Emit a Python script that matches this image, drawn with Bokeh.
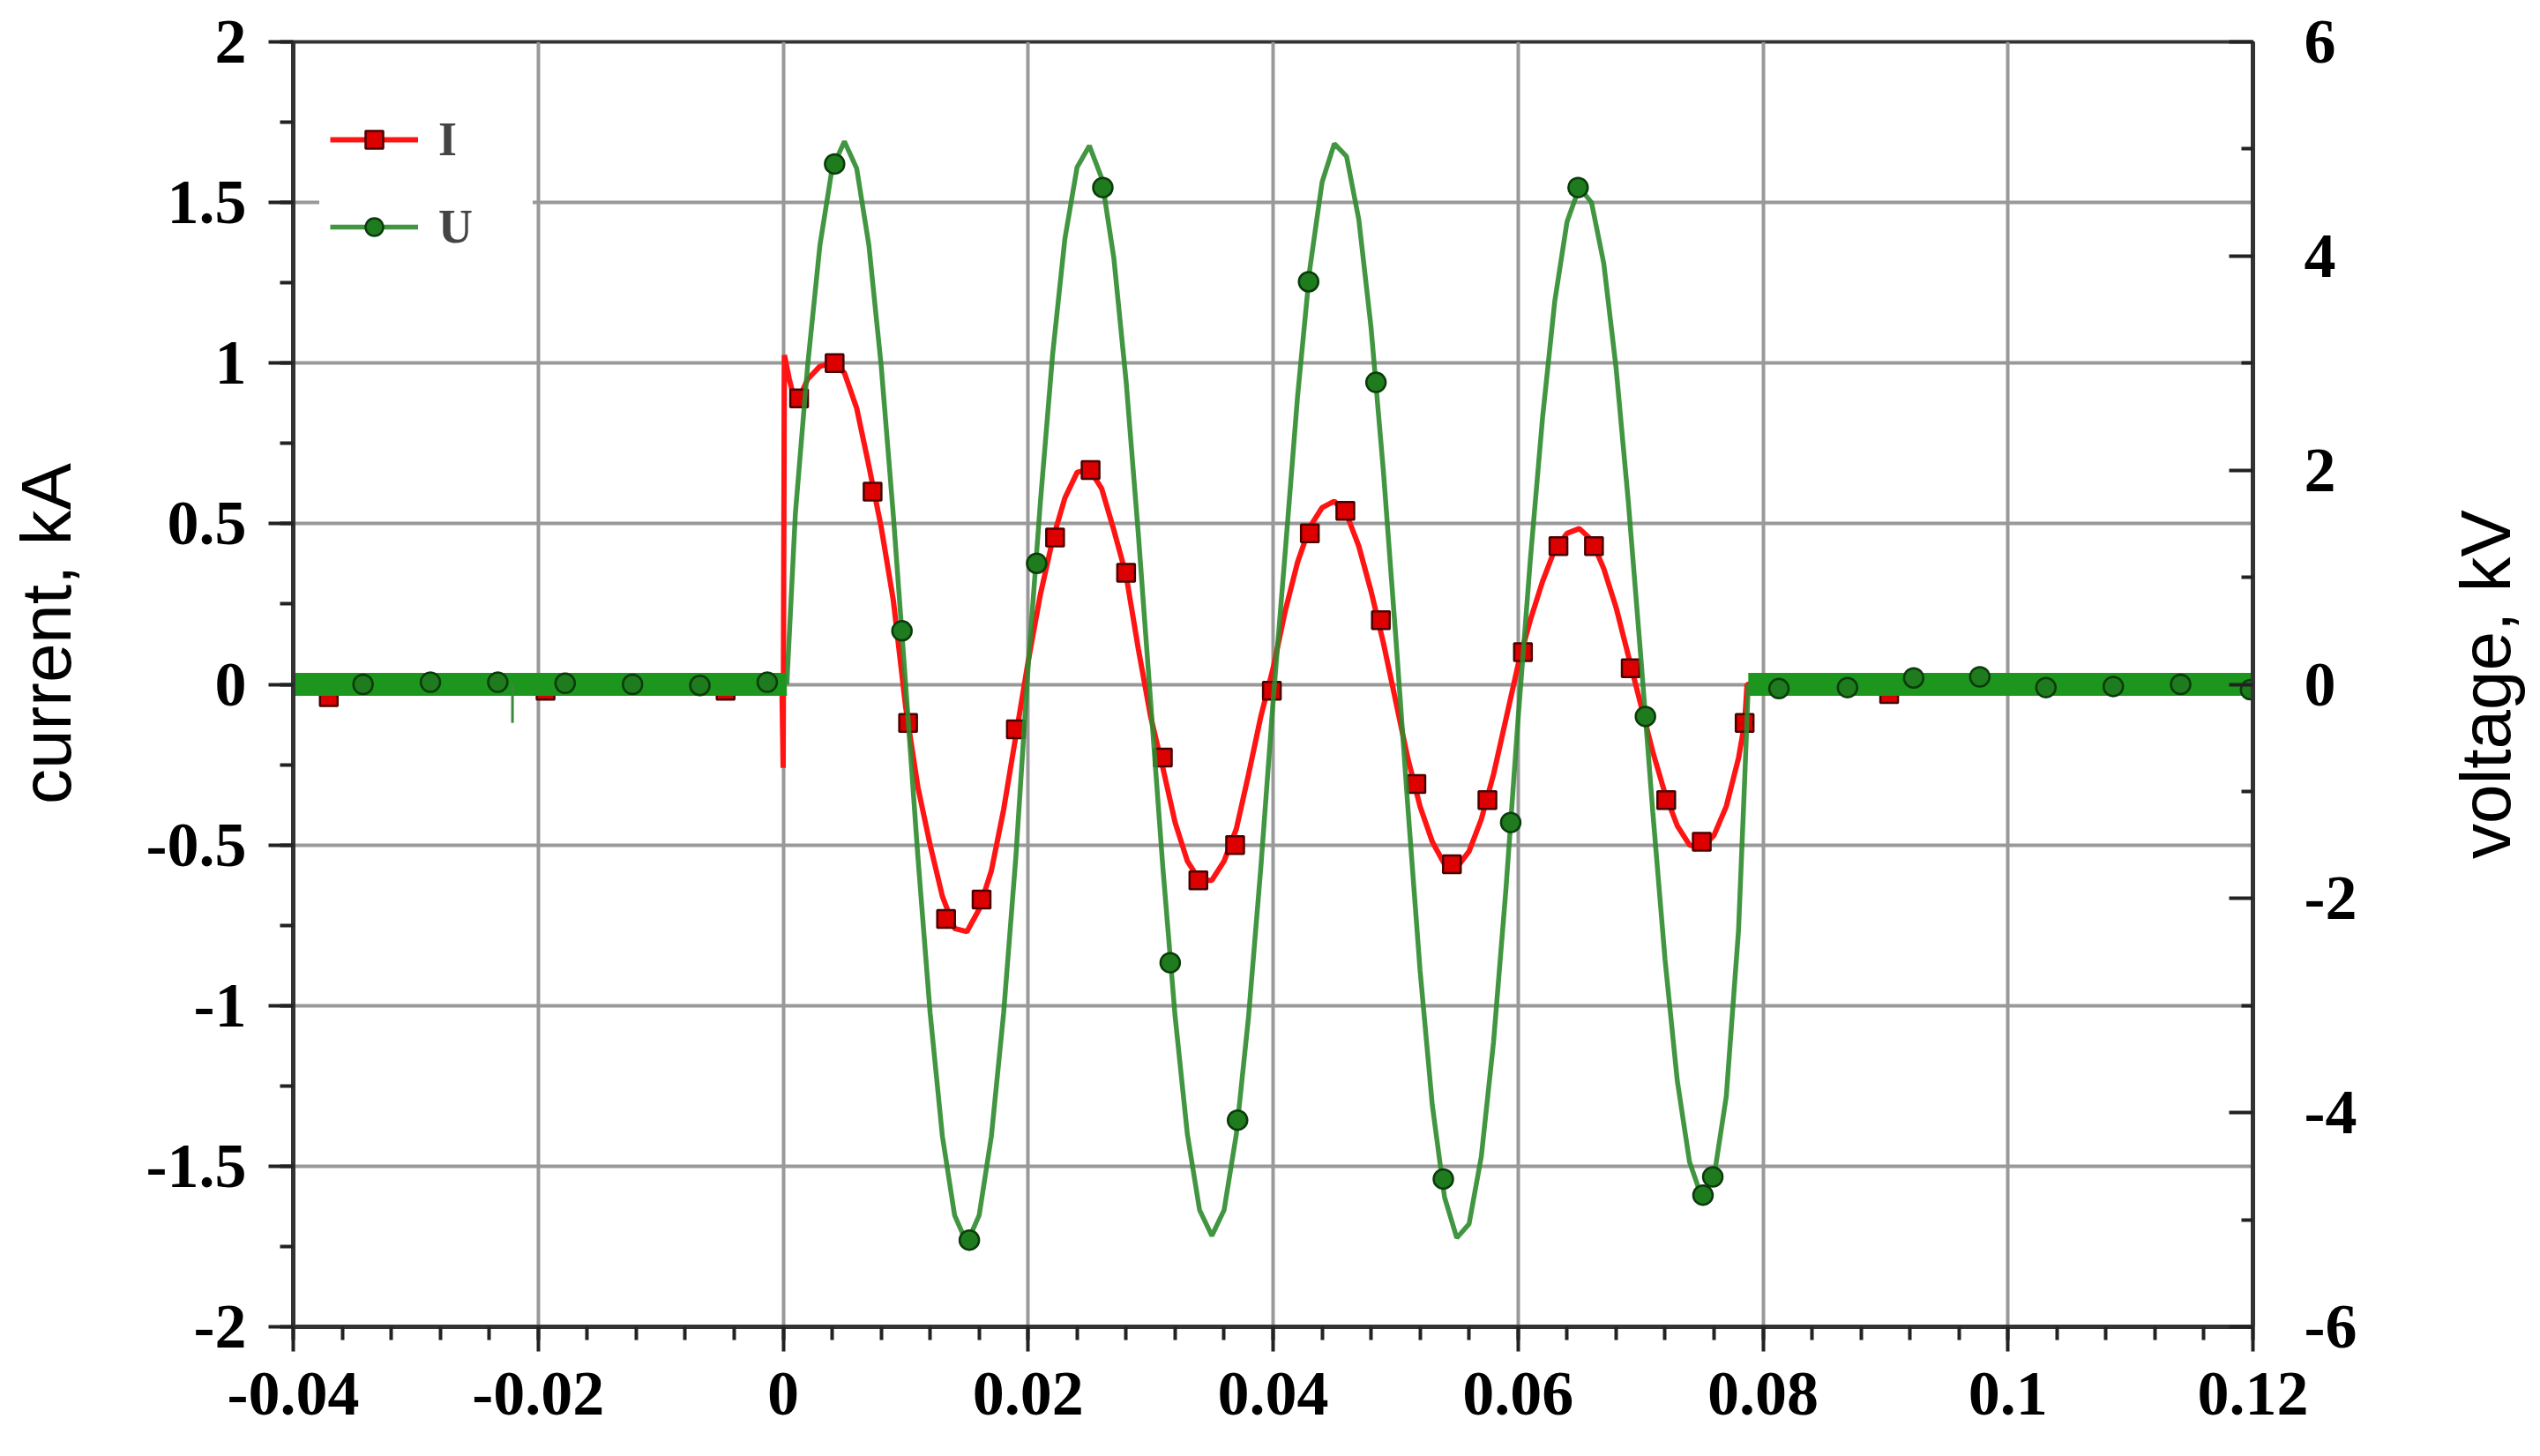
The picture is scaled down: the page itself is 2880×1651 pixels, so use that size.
import numpy as np
from bokeh.layouts import row
from bokeh.models import ColumnDataSource, FixedTicker, Legend, LegendItem, LinearAxis, Range1d
from bokeh.plotting import figure
from bokeh.embed import file_html
from bokeh.resources import INLINE

# axis ticks and their labels
x_ticks = [-0.04, -0.02, 0, 0.02, 0.04, 0.06, 0.08, 0.1, 0.12]
x_labels = ["-0.04", "-0.02", "0", "0.02", "0.04", "0.06", "0.08", "0.1", "0.12"]
i_ticks = [-2, -1.5, -1, -0.5, 0, 0.5, 1, 1.5, 2]
i_labels = ["-2", "-1.5", "-1", "-0.5", "0", "0.5", "1", "1.5", "2"]
u_ticks = [-6, -4, -2, 0, 2, 4, 6]
u_labels = ["-6", "-4", "-2", "0", "2", "4", "6"]

# current trace I (kA)
i_t = [-0.04, -0.0001, 0.0, 0.0001, 0.0005, 0.0009, 0.0013, 0.002, 0.003, 0.004,
       0.005, 0.006, 0.007, 0.008, 0.009, 0.010, 0.011, 0.012, 0.013, 0.014,
       0.015, 0.016, 0.017, 0.018, 0.019, 0.020, 0.021, 0.022, 0.023, 0.024,
       0.025, 0.026, 0.027, 0.028, 0.029, 0.030, 0.031, 0.032, 0.033, 0.034,
       0.035, 0.036, 0.037, 0.038, 0.039, 0.040, 0.041, 0.042, 0.043, 0.044,
       0.045, 0.046, 0.047, 0.048, 0.049, 0.050, 0.051, 0.052, 0.053, 0.054,
       0.055, 0.056, 0.057, 0.058, 0.059, 0.060, 0.061, 0.062, 0.063, 0.064,
       0.065, 0.066, 0.067, 0.068, 0.069, 0.070, 0.071, 0.072, 0.073, 0.074,
       0.075, 0.076, 0.077, 0.078, 0.0785, 0.0787, 0.12]
i_val = [0.0, 0.0, -0.26, 1.025, 0.95, 0.89, 0.89, 0.95, 0.99, 1.0,
         0.97, 0.86, 0.68, 0.49, 0.26, -0.07, -0.32, -0.50, -0.66, -0.76,
         -0.77, -0.70, -0.58, -0.39, -0.16, 0.07, 0.28, 0.45, 0.58, 0.66,
         0.67, 0.61, 0.48, 0.34, 0.11, -0.10, -0.26, -0.43, -0.55, -0.61,
         -0.61, -0.55, -0.45, -0.28, -0.10, 0.05, 0.23, 0.38, 0.49, 0.55,
         0.57, 0.53, 0.43, 0.29, 0.13, -0.05, -0.23, -0.38, -0.49, -0.56,
         -0.57, -0.52, -0.42, -0.28, -0.11, 0.06, 0.20, 0.32, 0.42, 0.47,
         0.485, 0.45, 0.36, 0.24, 0.09, -0.06, -0.21, -0.34, -0.44, -0.50,
         -0.51, -0.47, -0.38, -0.23, -0.12, 0.0, 0.0]

# current markers
im_t = [-0.0371, -0.0342, -0.0312, -0.0283, -0.0253, -0.0224, -0.0194, -0.0165,
        -0.0135, -0.0106, -0.0076, -0.0047, -0.0017,
        0.0013, 0.0042, 0.0073, 0.0102, 0.0133, 0.0162, 0.0190, 0.0222, 0.0251,
        0.0280, 0.0310, 0.0339, 0.0369, 0.0399, 0.0430, 0.0459, 0.0488, 0.0517,
        0.0546, 0.0575, 0.0604, 0.0633, 0.0662, 0.0692, 0.0721, 0.0750, 0.0785,
        0.0815, 0.0844, 0.0874, 0.0903, 0.0933, 0.0962, 0.0992, 0.1021, 0.1051,
        0.1080, 0.1110, 0.1139, 0.1169, 0.1198]
im_val = [-0.04, 0.0, 0.0, 0.0, 0.0, 0.0, -0.02, 0.0,
          0.0, 0.0, 0.0, -0.02, 0.0,
          0.89, 1.0, 0.6, -0.12, -0.73, -0.67, -0.14, 0.457, 0.667,
          0.347, -0.228, -0.61, -0.5, -0.02, 0.47, 0.54, 0.2, -0.31,
          -0.56, -0.36, 0.1, 0.43, 0.43, 0.05, -0.36, -0.49, -0.12,
          0.0, 0.0, 0.0, -0.03, 0.0, 0.0, 0.0, 0.0, 0.0,
          0.0, 0.0, 0.0, 0.0, 0.0]

# voltage trace U (kV)
u_t = [0.0003, 0.001, 0.002, 0.003, 0.004, 0.005, 0.006, 0.007, 0.008, 0.009,
       0.010, 0.011, 0.012, 0.013, 0.014, 0.015, 0.016, 0.017, 0.018, 0.019,
       0.020, 0.021, 0.022, 0.023, 0.024, 0.025, 0.026, 0.027, 0.028, 0.029,
       0.030, 0.031, 0.032, 0.033, 0.034, 0.035, 0.036, 0.037, 0.038, 0.039,
       0.040, 0.041, 0.042, 0.043, 0.044, 0.045, 0.046, 0.047, 0.048, 0.049,
       0.050, 0.051, 0.052, 0.053, 0.054, 0.055, 0.056, 0.057, 0.058, 0.059,
       0.060, 0.061, 0.062, 0.063, 0.064, 0.065, 0.066, 0.067, 0.068, 0.069,
       0.070, 0.071, 0.072, 0.073, 0.074, 0.075, 0.076, 0.077, 0.078, 0.0785,
       0.0788]
u_val = [0.0, 1.6, 2.98, 4.1, 4.82, 5.07, 4.82, 4.1, 2.98, 1.57,
         0.0, -1.61, -3.07, -4.22, -4.96, -5.22, -4.96, -4.22, -3.07, -1.61,
         0.16, 1.7, 3.08, 4.16, 4.83, 5.03, 4.73, 3.98, 2.83, 1.4,
         -0.16, -1.71, -3.1, -4.2, -4.91, -5.15, -4.91, -4.2, -3.1, -1.71,
         -0.16, 1.25, 2.69, 3.88, 4.69, 5.05, 4.93, 4.34, 3.33, 2.0,
         0.47, -1.14, -2.67, -3.93, -4.79, -5.17, -5.04, -4.41, -3.34, -1.93,
         -0.33, 1.16, 2.49, 3.58, 4.32, 4.64, 4.5, 3.93, 2.96, 1.71,
         0.29, -1.19, -2.57, -3.7, -4.46, -4.79, -4.6, -3.85, -2.3, -0.9,
         0.0]

# noisy flat parts of U before and after the pulse
u_pre_t = [-0.04, 0.0003]
u_pre = [0.0, 0.0]
u_post_t = [0.0788, 0.12]
u_post = [0.0, 0.0]
u_spike_t = [-0.0221, -0.0221]
u_spike = [0.0, -0.36]

# voltage markers
um_t = [-0.0343, -0.0288, -0.0233, -0.0178, -0.0123, -0.0068, -0.0013,
        0.0042, 0.0097, 0.0152, 0.0207, 0.0261, 0.0316, 0.0371, 0.0429, 0.0484,
        0.0539, 0.0594, 0.0649, 0.0704, 0.0751, 0.0759,
        0.0813, 0.0869, 0.0923, 0.0977, 0.1031, 0.1086, 0.1141, 0.1198]
um_val = [0.0, 0.02, 0.02, 0.01, 0.0, -0.01, 0.02,
          4.86, 0.5, -5.19, 1.13, 4.64, -2.6, -4.07, 3.76, 2.82,
          -4.62, -1.29, 4.64, -0.3, -4.77, -4.6,
          -0.04, -0.03, 0.06, 0.07, -0.03, -0.02, 0.0, -0.05]

TICK_FONT = "Liberation Serif"
LABEL_FONT = "Liberation Sans"
H = 1635


def no_frame_align(f):
    # keep each figure's own borders inside the row
    if "frame_align" in f.properties():
        f.frame_align = False


def label_strip(text, width, top, bottom):
    # narrow empty figure whose left axis only carries a title reading bottom to top
    f = figure(width=width, height=H, x_range=Range1d(0, 1), y_range=Range1d(0, 1),
               output_backend="svg", toolbar_location=None,
               min_border_left=width - 2, min_border_right=0,
               min_border_top=top, min_border_bottom=bottom)
    no_frame_align(f)
    f.outline_line_color = None
    f.grid.visible = False
    f.xaxis.visible = False
    ax = f.yaxis[0]
    ax.ticker = FixedTicker(ticks=[])
    ax.axis_line_color = None
    ax.major_tick_out = ax.major_tick_in = ax.minor_tick_out = ax.minor_tick_in = 0
    ax.axis_label = text
    ax.axis_label_standoff = 0
    ax.axis_label_text_font = LABEL_FONT
    ax.axis_label_text_font_style = "normal"
    ax.axis_label_text_font_size = "80px"
    ax.axis_label_text_color = "black"
    return f


p = figure(width=2580, height=H, x_range=Range1d(-0.04, 0.12), y_range=Range1d(-2, 2),
           output_backend="svg", toolbar_location=None,
           min_border_left=234, min_border_right=124, min_border_top=47, min_border_bottom=131)
no_frame_align(p)
p.extra_y_ranges = {"u": Range1d(start=-6, end=6)}
p.background_fill_color = "white"
p.border_fill_color = "white"
p.outline_line_color = "#333333"
p.outline_line_width = 4

x_ticker = FixedTicker(ticks=x_ticks, minor_ticks=list(np.round(np.arange(-0.04, 0.1201, 0.004), 3)))
i_ticker = FixedTicker(ticks=i_ticks, minor_ticks=list(np.arange(-2, 2.01, 0.25)))
u_ticker = FixedTicker(ticks=u_ticks, minor_ticks=[-5, -3, -1, 1, 3, 5])


def style_axis(ax):
    ax.axis_line_color = "#333333"
    ax.axis_line_width = 5
    ax.major_tick_line_color = "#222222"
    ax.major_tick_line_width = 4
    ax.minor_tick_line_color = "#222222"
    ax.minor_tick_line_width = 4
    ax.major_label_text_font = TICK_FONT
    ax.major_label_text_font_style = "bold"
    ax.major_label_text_font_size = "72px"
    ax.major_label_text_color = "black"


xa = p.xaxis[0]
style_axis(xa)
xa.ticker = x_ticker
xa.major_label_overrides = dict(zip(x_ticks, x_labels))
xa.major_tick_out, xa.major_tick_in = 28, 0
xa.minor_tick_out, xa.minor_tick_in = 15, 0
xa.major_label_standoff = 24

ya = p.yaxis[0]
style_axis(ya)
ya.ticker = i_ticker
ya.major_label_overrides = dict(zip(i_ticks, i_labels))
ya.major_tick_out, ya.major_tick_in = 28, 0
ya.minor_tick_out, ya.minor_tick_in = 15, 0
ya.major_label_standoff = 25

ua = LinearAxis(y_range_name="u", ticker=u_ticker)
style_axis(ua)
ua.major_label_overrides = dict(zip(u_ticks, u_labels))
ua.major_tick_out, ua.major_tick_in = 0, 27
ua.minor_tick_out, ua.minor_tick_in = 0, 13
ua.major_label_standoff = 58
p.add_layout(ua, "right")

p.xgrid.ticker = x_ticker
p.ygrid.ticker = i_ticker
p.grid.grid_line_color = "#999999"
p.grid.grid_line_width = 4

# current
i_src = ColumnDataSource(dict(t=i_t, v=i_val))
im_src = ColumnDataSource(dict(t=im_t, v=im_val))
r_line = p.line("t", "v", source=i_src, color="#ff1414", line_width=6)
r_pts = p.scatter("t", "v", source=im_src, marker="square", size=20,
                  fill_color="#dd0000", line_color="#4a0000", line_width=2.5)

# voltage
p.line(u_pre_t, u_pre, y_range_name="u", color="#1c961c", line_width=26, line_cap="butt")
p.line(u_post_t, u_post, y_range_name="u", color="#1c961c", line_width=26, line_cap="butt")
p.line(u_spike_t, u_spike, y_range_name="u", color="#3a8a3a", line_width=3)
u_src = ColumnDataSource(dict(t=u_t, v=u_val))
um_src = ColumnDataSource(dict(t=um_t, v=um_val))
g_line = p.line("t", "v", source=u_src, y_range_name="u", color="#2e8b2e",
                line_width=5.5, line_alpha=0.9)
g_pts = p.scatter("t", "v", source=um_src, y_range_name="u", marker="circle", size=22,
                  fill_color="#1e7b1e", line_color="#0b3b0b", line_width=2.5)

legend = Legend(items=[LegendItem(label="I", renderers=[r_line, r_pts]),
                       LegendItem(label="U", renderers=[g_line, g_pts])],
                location=(30, 1204))
legend.glyph_width = 100
legend.glyph_height = 50
legend.label_height = 60
legend.label_width = 95
legend.spacing = 37
legend.padding = 12
legend.margin = 0
legend.label_standoff = 23
legend.label_text_font = TICK_FONT
legend.label_text_font_style = "bold"
legend.label_text_font_size = "54px"
legend.background_fill_color = "white"
legend.background_fill_alpha = 1.0
legend.border_line_alpha = 0
p.add_layout(legend)

# axis titles sit in two thin strips so both read bottom to top
left_strip = label_strip("current, kA", 98, 47, 246)
right_strip = label_strip("voltage, kV", 186, 47, 131)

open("out.html", "w").write(file_html(row(left_strip, p, right_strip), INLINE))
